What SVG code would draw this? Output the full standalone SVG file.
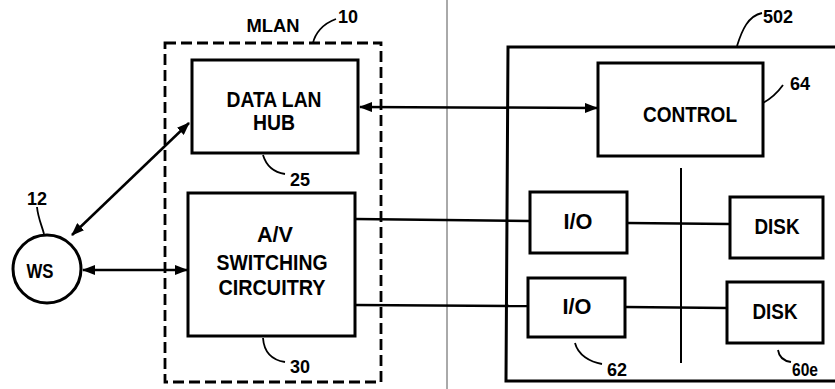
<svg xmlns="http://www.w3.org/2000/svg" width="835" height="389" viewBox="0 0 835 389">
<style>
.box{fill:#fff;stroke:#000;stroke-width:3}
.ln{fill:none;stroke:#000;stroke-width:2.5}
.ld{fill:none;stroke:#000;stroke-width:1.8}
.t{font-family:"Liberation Sans",Arial,sans-serif;font-weight:bold;font-size:22px;fill:#000;text-anchor:middle}
.n{font-family:"Liberation Sans",Arial,sans-serif;font-weight:bold;font-size:18px;fill:#000}
</style>
<defs>
<marker id="ah" viewBox="0 0 13 10" refX="12" refY="5" markerWidth="13" markerHeight="10" markerUnits="userSpaceOnUse" orient="auto-start-reverse">
<path d="M0,0 L13,5 L0,10 Z" fill="#000"/>
</marker>
</defs>
<rect width="835" height="389" fill="#fff"/>
<line x1="447" y1="0" x2="447" y2="389" stroke="#555" stroke-width="1"/>

<g id="mlan">
<rect x="165" y="43" width="216" height="339" fill="none" stroke="#000" stroke-width="2.8" stroke-dasharray="11 5"/>
<text class="t" x="273" y="32" textLength="53" lengthAdjust="spacingAndGlyphs" style="font-size:19px">MLAN</text>
<path class="ld" d="M313,43 C315,34 322,24 336,19"/>
<text class="n" x="338" y="23">10</text>
</g>

<g id="dev502">
<path d="M835,47 L508,47 L506,381 L835,381" fill="none" stroke="#000" stroke-width="3"/>
<path class="ld" d="M737,46 C742,30 748,16 762,13"/>
<text class="n" x="763" y="23">502</text>
<line x1="681" y1="168" x2="681" y2="363" stroke="#000" stroke-width="2"/>
</g>

<g id="connectors">
<line class="ln" x1="72" y1="235" x2="189" y2="123" marker-start="url(#ah)" marker-end="url(#ah)"/>
<line class="ln" x1="83" y1="270" x2="187" y2="270" marker-start="url(#ah)" marker-end="url(#ah)"/>
<line class="ln" x1="360" y1="107" x2="597" y2="108" marker-start="url(#ah)" marker-end="url(#ah)"/>
<line class="ln" x1="355" y1="219" x2="530" y2="221"/>
<line class="ln" x1="355" y1="305" x2="528" y2="306"/>
<line class="ln" x1="627" y1="223" x2="730" y2="224"/>
<line class="ln" x1="625" y1="307" x2="727" y2="308"/>
</g>

<g id="ws">
<circle cx="47" cy="269" r="34" fill="#fff" stroke="#000" stroke-width="3"/>
<text class="t" x="40" y="278" textLength="27" lengthAdjust="spacingAndGlyphs" style="font-size:21px">WS</text>
<path class="ld" d="M37,207 C38,218 42,226 44,234"/>
<text class="n" x="27" y="205">12</text>
</g>

<g id="hub">
<rect class="box" x="192" y="60" width="166" height="93"/>
<text class="t" x="274" y="107" textLength="95" lengthAdjust="spacingAndGlyphs">DATA LAN</text>
<text class="t" x="274" y="130" textLength="42" lengthAdjust="spacingAndGlyphs">HUB</text>
<path class="ld" d="M263,155 C266,165 272,172 285,174"/>
<text class="n" x="290" y="186">25</text>
</g>

<g id="av">
<rect class="box" x="188" y="193" width="167" height="143"/>
<text class="t" x="275" y="242" textLength="36" lengthAdjust="spacingAndGlyphs">A/V</text>
<text class="t" x="272" y="270" textLength="111" lengthAdjust="spacingAndGlyphs">SWITCHING</text>
<text class="t" x="272" y="295" textLength="107" lengthAdjust="spacingAndGlyphs">CIRCUITRY</text>
<path class="ld" d="M263,338 C264,352 272,360 285,362"/>
<text class="n" x="290" y="373">30</text>
</g>

<g id="control">
<rect class="box" x="598" y="63" width="165" height="93"/>
<text class="t" x="690" y="122" textLength="94" lengthAdjust="spacingAndGlyphs">CONTROL</text>
<path class="ld" d="M763,103 C772,98 778,92 783,85"/>
<text class="n" x="790" y="90">64</text>
</g>

<g id="io1">
<rect class="box" x="530" y="192" width="97" height="61"/>
<text class="t" x="578" y="229" textLength="29" lengthAdjust="spacingAndGlyphs">I/O</text>
</g>

<g id="io2">
<rect class="box" x="528" y="278" width="97" height="59"/>
<text class="t" x="577" y="314" textLength="29" lengthAdjust="spacingAndGlyphs">I/O</text>
<path class="ld" d="M575,343 C578,355 590,362 602,364"/>
<text class="n" x="607" y="376">62</text>
</g>

<g id="disk1">
<rect class="box" x="730" y="197" width="93" height="61"/>
<text class="t" x="777" y="234" textLength="45" lengthAdjust="spacingAndGlyphs">DISK</text>
</g>

<g id="disk2">
<rect class="box" x="727" y="282" width="96" height="61"/>
<text class="t" x="775" y="319" textLength="45" lengthAdjust="spacingAndGlyphs">DISK</text>
<path class="ld" d="M778,350 C779,357 784,361 791,362"/>
<text class="n" x="792" y="376" textLength="26" lengthAdjust="spacingAndGlyphs">60e</text>
</g>
</svg>
